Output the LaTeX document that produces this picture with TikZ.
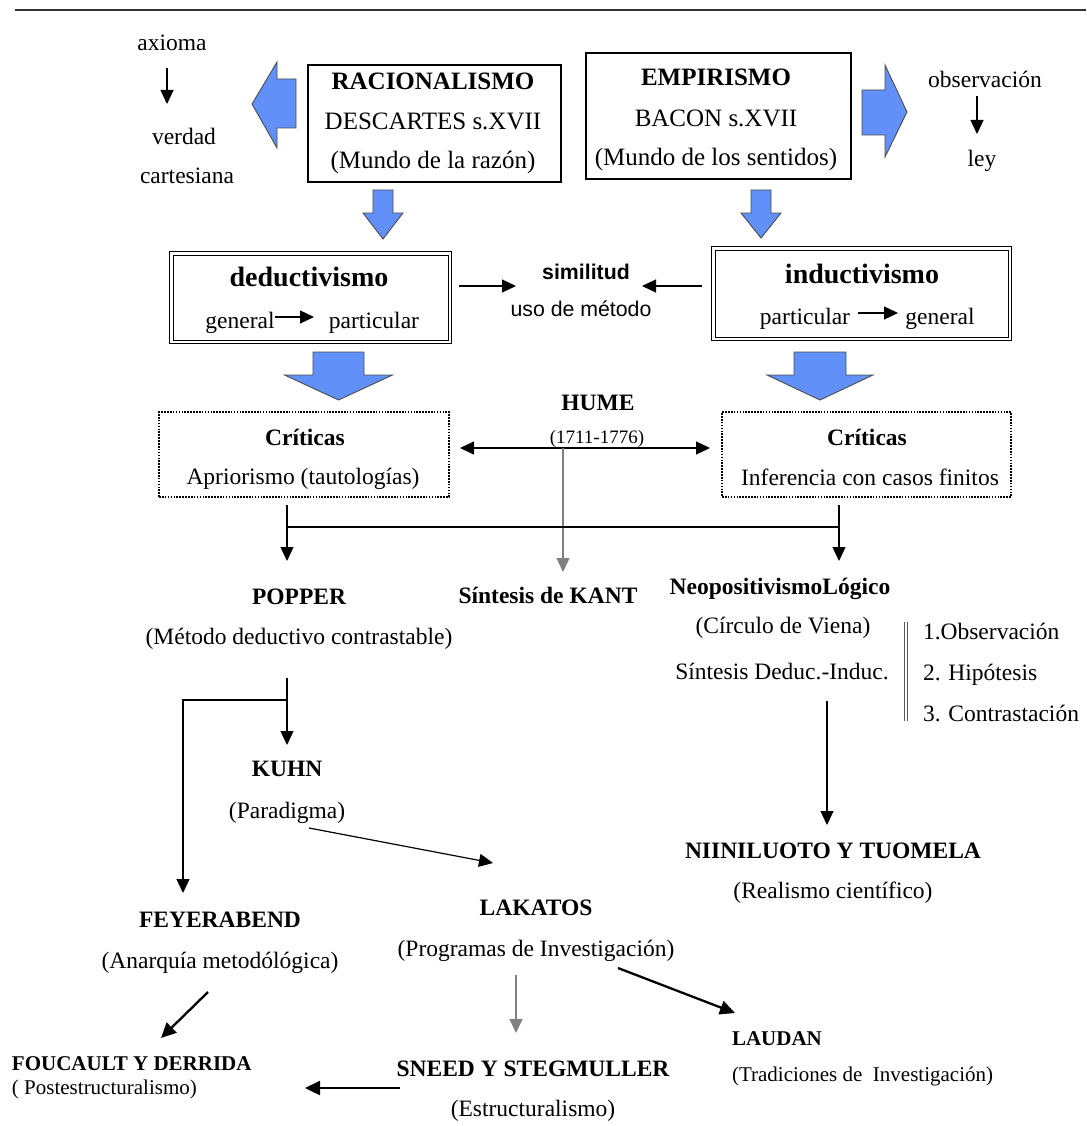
\documentclass[tikz,border=0pt]{standalone}
\usepackage{fontspec}
\setmainfont{Liberation Serif}
\newfontfamily\arialfont{Liberation Sans}
\usetikzlibrary{arrows.meta,positioning}

\newcommand{\fsmid}{\fontsize{23.5}{28}\selectfont}
\newcommand{\fstop}{\fontsize{25}{30}\selectfont}
\newcommand{\fsbig}{\fontsize{28}{33}\selectfont}
\newcommand{\fsdate}{\fontsize{19}{23}\selectfont}
\newcommand{\fssmall}{\fontsize{21}{25}\selectfont}
\newcommand{\fssans}{\arialfont\fontsize{21.3}{25}\selectfont}

\definecolor{blockblue}{RGB}{96,144,248}

% block arrow pointing down: x, shaft half, head half, top, head base, tip
\newcommand{\downblock}[6]{%
  \draw[blockarrow] (#1-#2,#4) -- (#1+#2,#4) -- (#1+#2,#5) -- (#1+#3,#5)
    -- (#1,#6) -- (#1-#3,#5) -- (#1-#2,#5) -- cycle;}

\tikzset{
  lbl/.style={anchor=base, inner sep=0pt, outer sep=0pt, font=\fsmid},
  hd/.style={lbl, font=\fsmid\bfseries},
  topbox/.style={draw, line width=1.2pt, inner sep=0pt, outer sep=0pt},
  dblbox/.style={draw, line width=1pt, double, double distance=2.5pt, inner sep=0pt, outer sep=0pt},
  critbox/.style={draw, line width=1.4pt, dash pattern=on 1.6pt off 1.3pt, inner sep=0pt, outer sep=0pt},
  blockarrow/.style={fill=blockblue, draw=black!70, line width=0.9pt, line join=miter},
  arr/.style={-{Triangle[length=14pt,width=13pt]}, line width=1.2pt},
  grayarr/.style={arr, draw=black!50},
  thickarr/.style={-{Triangle[length=15pt,width=14pt]}, line width=2.3pt},
  twoarr/.style={{Triangle[length=14pt,width=13pt]}-{Triangle[length=14pt,width=13pt]}, line width=1.2pt},
  steplist/.style={draw=black!65, line width=0.9pt, double=white, double distance=2.2pt},
}

\begin{document}
\begin{tikzpicture}[x=1pt, y=-1pt]
  \useasboundingbox (0,0) rectangle (1086,1126);

  \draw[line width=1.5pt, black!80] (15,10) -- (1086,10);

  % Define nodes
  \node[lbl] (axioma) at (172,51) {axioma};
  \node[lbl] (verdad) at (184,145) {verdad};
  \node[lbl] (cartesiana) at (187,184) {cartesiana};
  \node[lbl] (observacion) at (985,88) {observación};
  \node[lbl] (ley) at (982,167) {ley};

  \node[topbox, minimum width=253, minimum height=117] (racbox) at (434.5,123.5) {};
  \node[lbl, font=\fstop\bfseries] (racio) at (433,90) {RACIONALISMO};
  \node[lbl, font=\fstop, below=40pt of racio.base, anchor=base] (descartes) {DESCARTES s.XVII};
  \node[lbl, font=\fstop, below=39pt of descartes.base, anchor=base] (razon) {(Mundo de la razón)};

  \node[topbox, minimum width=265, minimum height=126] (empbox) at (718.5,116) {};
  \node[lbl, font=\fstop\bfseries] (empir) at (716,86) {EMPIRISMO};
  \node[lbl, font=\fstop, below=41pt of empir.base, anchor=base] (bacon) {BACON s.XVII};
  \node[lbl, font=\fstop, below=39pt of bacon.base, anchor=base] (sentidos) {(Mundo de los sentidos)};

  \node[dblbox, minimum width=278.5, minimum height=88.5] (dedbox) at (310.5,297.5) {};
  \node[lbl, font=\fsbig\bfseries] (deduc) at (309,286) {deductivismo};
  \node[lbl] (dgeneral) at (240,328) {general};
  \node[lbl] (dparticular) at (374,328) {particular};

  \node[dblbox, minimum width=296.5, minimum height=90.5] (indbox) at (861.5,293.5) {};
  \node[lbl, font=\fsbig\bfseries] (induc) at (862,283) {inductivismo};
  \node[lbl] (iparticular) at (805,324) {particular};
  \node[lbl] (igeneral) at (940,324) {general};

  \node[lbl, font=\fssans\bfseries] (similitud) at (586,279) {similitud};
  \node[lbl, font=\fssans] (uso) at (581,316) {uso de método};

  \node[critbox, minimum width=290, minimum height=85] (critL) at (304,454.5) {};
  \node[hd] (critLT) at (305,445) {Críticas};
  \node[lbl] (aprior) at (303,484) {Apriorismo (tautologías)};

  \node[critbox, minimum width=289, minimum height=85] (critR) at (866.5,454.5) {};
  \node[hd] (critRT) at (867,445) {Críticas};
  \node[lbl] (infer) at (870,485) {Inferencia con casos finitos};

  \node[hd] (hume) at (598,410) {HUME};
  \node[lbl, font=\fsdate] (humedate) at (597,443) {(1711-1776)};

  \node[hd] (popper) at (299,604) {POPPER};
  \node[lbl, below=40pt of popper.base, anchor=base] (metodo) {(Método deductivo contrastable)};
  \node[hd] (kant) at (548,603) {Síntesis de KANT};
  \node[hd] (neo) at (780,594) {NeopositivismoLógico};
  \node[lbl] (viena) at (783,633) {(Círculo de Viena)};
  \node[lbl] (sintesis) at (782,679) {Síntesis Deduc.-Induc.};
  \node[lbl, anchor=base west] (paso1) at (923,639) {1.Observación};
  \node[lbl, below=41pt of paso1.base west, anchor=base west] (paso2) {2. Hipótesis};
  \node[lbl, below=41pt of paso2.base west, anchor=base west] (paso3) {3. Contrastación};

  \node[hd] (kuhn) at (287,776) {KUHN};
  \node[lbl, below=42pt of kuhn.base, anchor=base] (paradigma) {(Paradigma)};
  \node[hd] (nii) at (833,858) {NIINILUOTO Y TUOMELA};
  \node[lbl, below=40pt of nii.base, anchor=base] (realismo) {(Realismo científico)};
  \node[hd] (feyer) at (220,927) {FEYERABEND};
  \node[lbl, below=41pt of feyer.base, anchor=base] (anarquia) {(Anarquía metodólógica)};
  \node[hd] (lakatos) at (536,915) {LAKATOS};
  \node[lbl, below=41pt of lakatos.base, anchor=base] (programas) {(Programas de Investigación)};
  \node[hd] (sneed) at (533,1076) {SNEED Y STEGMULLER};
  \node[lbl, below=40pt of sneed.base, anchor=base] (estruct) {(Estructuralismo)};
  \node[lbl, anchor=base west, font=\fssmall\bfseries] (laudan) at (732,1045) {LAUDAN};
  \node[lbl, anchor=base west, font=\fssmall] (tradic) at (732,1081) {(Tradiciones de~ Investigación)};
  \node[lbl, anchor=base west, font=\fssmall\bfseries] (foucault) at (12,1070) {FOUCAULT Y DERRIDA};
  \node[lbl, anchor=base west, font=\fssmall] (postes) at (12,1094) {( Postestructuralismo)};

  % Block arrows
  \draw[blockarrow] (252,104) -- (277,62) -- (277,79) -- (296,79) -- (296,128)
    -- (277,128) -- (277,148) -- cycle;
  \draw[blockarrow] (907,112) -- (885,65) -- (885,90) -- (862,90) -- (862,135)
    -- (885,135) -- (885,157) -- cycle;
  \downblock{383}{10}{20}{190}{213}{239}
  \downblock{761}{10}{20}{190}{213}{238}
  \downblock{338.5}{25.5}{54}{352}{375}{400}
  \downblock{820}{26}{53}{352}{375}{400}

  % Connect the nodes
  \coordinate (axA) at (167,68);   \coordinate (axB) at (167,104);
  \coordinate (obA) at (977,96);   \coordinate (obB) at (977,134);
  \coordinate (dgA) at (275,317);  \coordinate (dgB) at (314,317);
  \coordinate (igA) at (858,313);  \coordinate (igB) at (898,313);
  \coordinate (simL) at (459,286); \coordinate (simLt) at (516,286);
  \coordinate (simR) at (702,286); \coordinate (simRt) at (642,286);
  \coordinate (humeL) at (460,448); \coordinate (humeR) at (710,448);
  \coordinate (humeJ) at (563,448); \coordinate (kantT) at (563,572);
  \coordinate (critLb) at (287,505); \coordinate (critRb) at (839,505);
  \coordinate (joinL) at (287,527);  \coordinate (joinR) at (839,527);
  \coordinate (popT) at (287,561);   \coordinate (neoT) at (839,561);
  \coordinate (popB) at (287,678);   \coordinate (kuhnT) at (287,745);
  \coordinate (popJ) at (287,700);   \coordinate (feyJ) at (183,700);
  \coordinate (feyT) at (183,893);
  \coordinate (neoB) at (827,701);   \coordinate (niiT) at (827,825);
  \coordinate (kuhnB) at (309,828);  \coordinate (lakT) at (493,863);
  \coordinate (lakB) at (516,975);   \coordinate (sneedT) at (516,1033);
  \coordinate (lakR) at (618,968);   \coordinate (laudT) at (735,1013);
  \coordinate (feyB) at (208,992);   \coordinate (fouT) at (161,1038);
  \coordinate (sneedL) at (400,1088); \coordinate (fouR) at (305,1088);
  \coordinate (listT) at (906,622);  \coordinate (listB) at (906,721);

  \draw[arr] (axA) -- (axB);
  \draw[arr] (obA) -- (obB);
  \draw[arr] (dgA) -- (dgB);
  \draw[arr] (igA) -- (igB);
  \draw[arr] (simL) -- (simLt);
  \draw[arr] (simR) -- (simRt);
  \draw[twoarr] (humeL) -- (humeR);
  \draw[grayarr] (humeJ) -- (kantT);
  \draw[line width=1.2pt] (critLb) -- (joinL) -- (joinR) -- (critRb);
  \draw[arr] (joinL) -- (popT);
  \draw[arr] (joinR) -- (neoT);
  \draw[steplist] (listT) -- (listB);
  \draw[arr] (popB) -- (kuhnT);
  \draw[arr] (popJ) -- (feyJ) -- (feyT);
  \draw[arr] (neoB) -- (niiT);
  \draw[arr] (kuhnB) -- (lakT);
  \draw[grayarr] (lakB) -- (sneedT);
  \draw[thickarr] (lakR) -- (laudT);
  \draw[thickarr] (feyB) -- (fouT);
  \draw[thickarr] (sneedL) -- (fouR);

\end{tikzpicture}
\end{document}
